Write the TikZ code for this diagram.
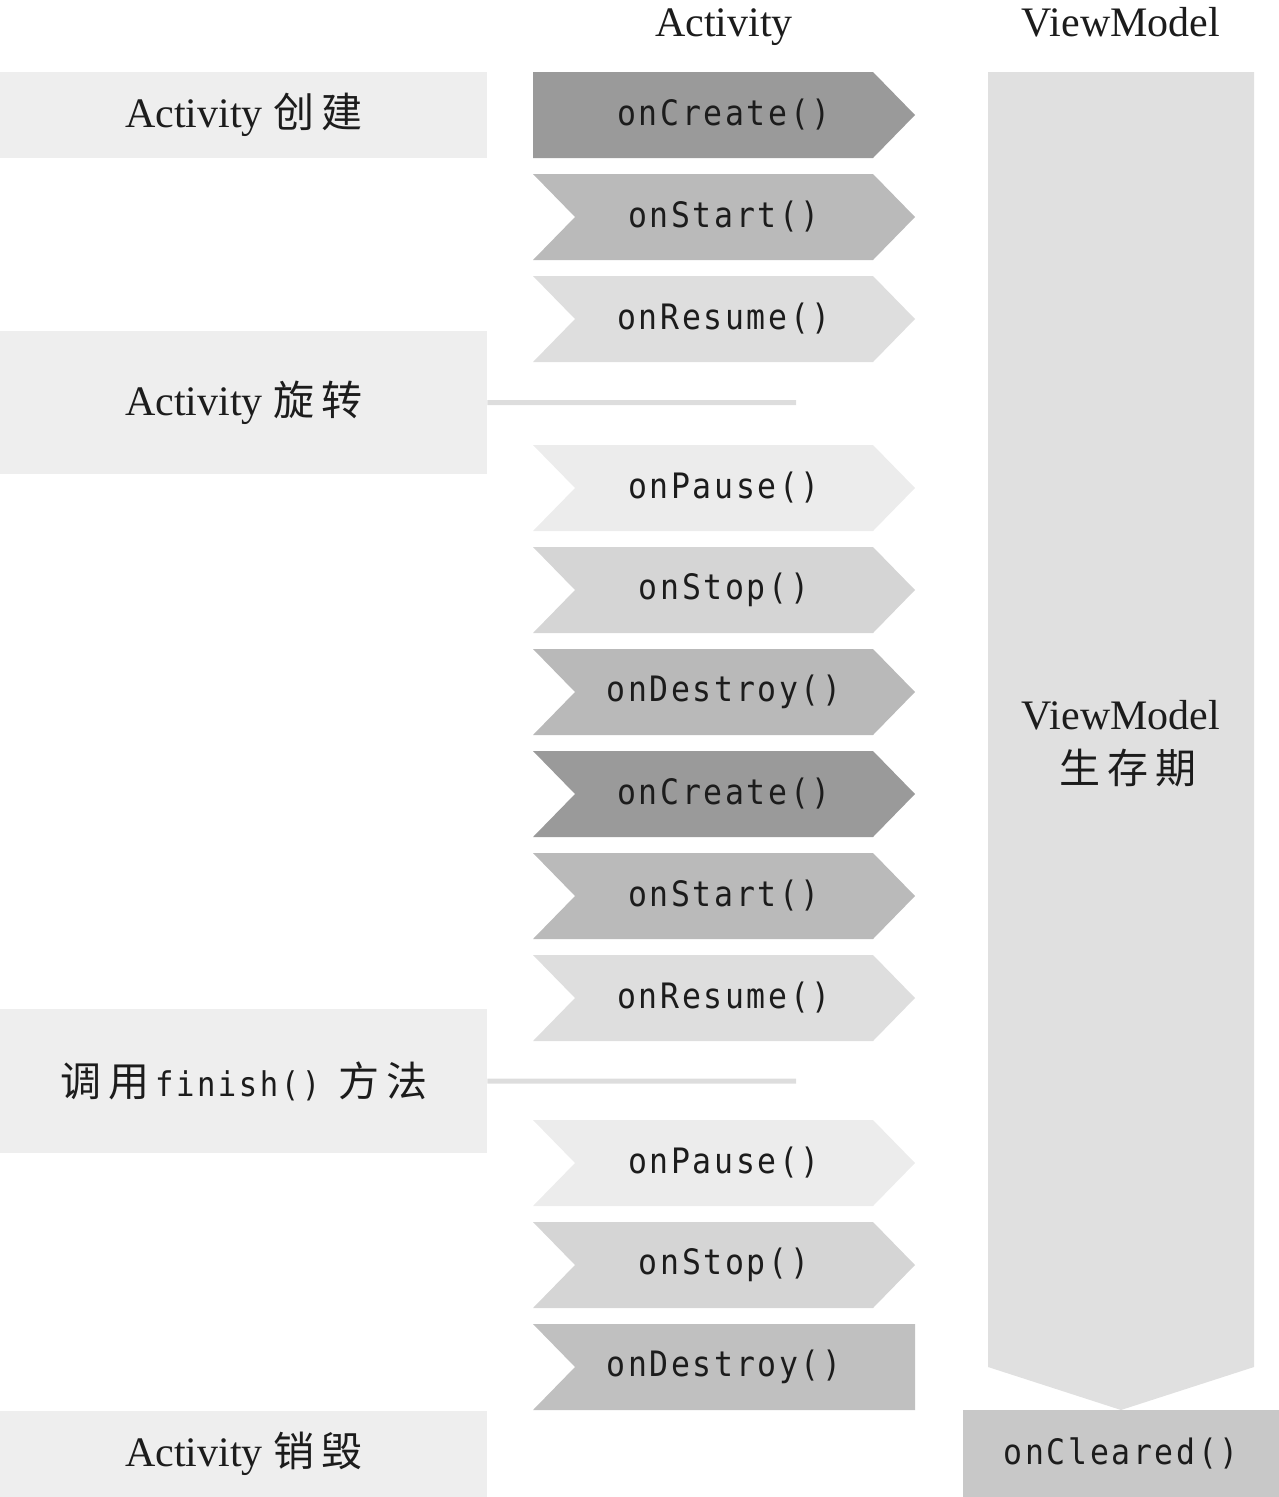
\documentclass[tikz,border=0pt]{standalone}
\usepackage{fontspec}
\setmainfont{Liberation Serif}
\newfontfamily\cjk[LetterSpace=17]{Noto Sans CJK SC}
\newfontfamily\monof[FakeStretch=0.9,LetterSpace=7.5]{DejaVu Sans Mono}
\definecolor{cCreate}{HTML}{9A9A9A}
\definecolor{cStart}{HTML}{BABABA}
\definecolor{cResume}{HTML}{DEDEDE}
\definecolor{cPause}{HTML}{ECECEC}
\definecolor{cStop}{HTML}{D5D5D5}
\definecolor{cDestroy}{HTML}{B9B9B9}
\definecolor{cDestroyL}{HTML}{C0C0C0}
\definecolor{boxg}{HTML}{EEEEEE}
\definecolor{vmg}{HTML}{E0E0E0}
\definecolor{clr}{HTML}{C8C8C8}
\definecolor{lineg}{HTML}{DDDDDD}
\definecolor{ink}{HTML}{1C1C1C}
\begin{document}
\begin{tikzpicture}[x=1pt,y=-1pt,
  chevtext/.style={font=\monof\fontsize{35}{38}\selectfont, text=ink, inner sep=0},
  leftbox/.style={fill=boxg, minimum width=487pt, inner sep=0, anchor=north west,
    font=\fontsize{42}{46}\selectfont, text=ink},
  head/.style={font=\fontsize{42}{46}\selectfont, text=ink, inner sep=0},
  joinline/.style={line width=5pt, draw=lineg}]
\useasboundingbox (0,0) rectangle (1279,1497);

% headers
\node[head, anchor=base] (hAct) at (724,36) {Activity};
\node[head, anchor=base] (hVM) at (1121,36) {ViewModel};

% ViewModel lifetime band
\fill[vmg] (988,72) -- (1254,72) -- (1254,1367) -- (1121,1410) -- (988,1367) -- cycle;
\node[head] (life1) at (1121,715) {ViewModel};
\node[head, font=\cjk\fontsize{41}{45}\selectfont] (life2) at (1128,768) {生存期};

% onCleared
\node[fill=clr, minimum width=316pt, minimum height=87pt, inner sep=0, anchor=north west,
  font=\monof\fontsize{35}{38}\selectfont, text=ink] (cleared) at (963,1410) {onCleared()};

% left boxes
\node[leftbox, minimum height=86pt] (create) at (0,72) {Activity {\cjk\fontsize{41}{45}\selectfont 创建}};
\node[leftbox, minimum height=143pt] (rotate) at (0,331) {Activity {\cjk\fontsize{41}{45}\selectfont 旋转}};
\node[leftbox, minimum height=144pt] (finish) at (0,1009) {{\cjk\fontsize{41}{45}\selectfont 调用}\hspace{6pt}{\monof\fontsize{34}{36}\selectfont finish()}\hspace{18pt}{\cjk\fontsize{41}{45}\selectfont 方法}};
\node[leftbox, minimum height=86pt] (destroy) at (0,1411) {Activity {\cjk\fontsize{41}{45}\selectfont 销毁}};

\coordinate (rotEnd) at (796,402.5);
\coordinate (finEnd) at (796,1081);
\draw[joinline] (rotate.east) -- (rotEnd);
\draw[joinline] (finish.east) -- (finEnd);

% first chevron (flat left)
\fill[cCreate] (533,72) -- (873,72) -- (915,115) -- (873,158) -- (533,158) -- cycle;
\node[chevtext] (createA) at (724,115) {onCreate()};

% middle chevrons
\foreach \t/\c/\txt/\n in {174/cStart/onStart()/startA, 276/cResume/onResume()/resumeA,
  445/cPause/onPause()/pauseA, 547/cStop/onStop()/stopA, 649/cDestroy/onDestroy()/destroyA,
  751/cCreate/onCreate()/createB, 853/cStart/onStart()/startB, 955/cResume/onResume()/resumeB,
  1120/cPause/onPause()/pauseB, 1222/cStop/onStop()/stopB}{
  \fill[\c] (533,\t) -- (873,\t) -- (915,\t+43) -- (873,\t+86) -- (533,\t+86) -- (575,\t+43) -- cycle;
  \node[chevtext] (\n) at (724,\t+43) {\txt};
}

% last chevron (flat right)
\fill[cDestroyL] (533,1324) -- (915,1324) -- (915,1410) -- (533,1410) -- (575,1367) -- cycle;
\node[chevtext] (destroyB) at (724,1367) {onDestroy()};
\end{tikzpicture}
\end{document}
